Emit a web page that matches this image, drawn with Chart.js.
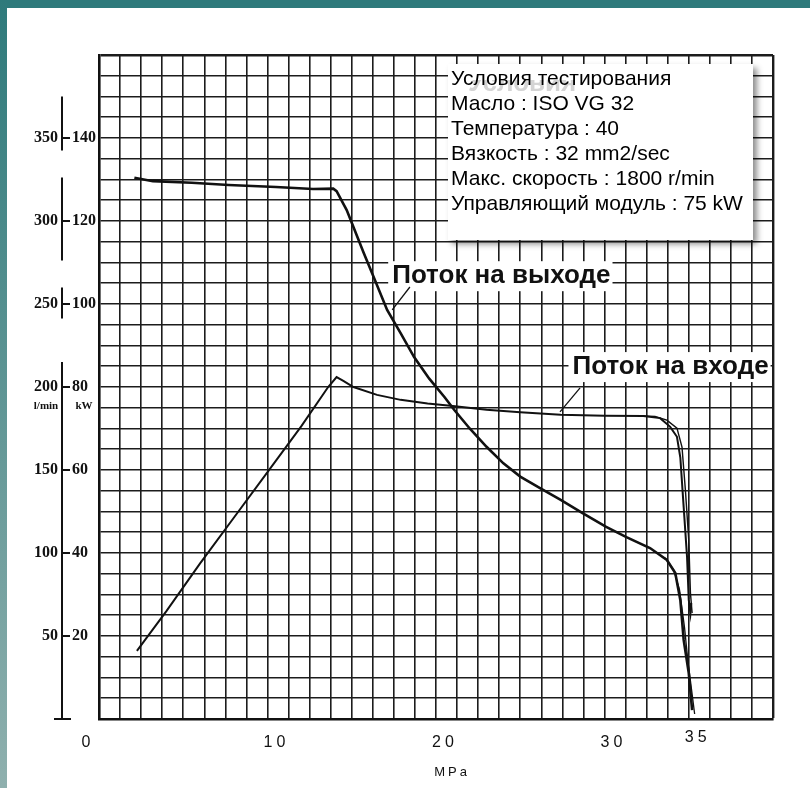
<!DOCTYPE html>
<html>
<head>
<meta charset="utf-8">
<script src="https://cdn.jsdelivr.net/npm/chart.js@4.4.1/dist/chart.umd.min.js"></script>
<style>
  html, body { margin: 0; padding: 0; background: #fff; }
  body { width: 810px; height: 788px; position: relative; overflow: hidden; }
  #topBand { position: absolute; left: 0; top: 0; width: 810px; height: 8px; background: #2e7a7b; }
  #leftBand { position: absolute; left: 0; top: 0; width: 7px; height: 788px; background: linear-gradient(#2e7a7b, #8fb0ae); }
  #wrap { position: absolute; left: 0; top: 0; width: 810px; height: 788px; }
  #conditions {
    position: absolute; left: 448px; top: 64px; width: 305px; height: 176px;
    background: #fff; box-shadow: 4px 4px 6px rgba(0,0,0,0.45);
    font-family: "Liberation Sans", Arial, sans-serif; font-size: 21px; color: #000;
  }
  #conditions .ghost {
    position: absolute; left: 20px; top: 16px; height: 11px; overflow: hidden;
  }
  #conditions .ghost span {
    position: relative; top: -11px; display: block; line-height: 26px;
    font-weight: bold; font-size: 26px; color: #d4d4d4;
  }
  #conditions .lines { position: absolute; left: 3px; top: 1px; line-height: 25px; white-space: nowrap; }
</style>
</head>
<body>
<div id="topBand"></div>
<div id="leftBand"></div>
<div id="wrap"><canvas id="chart" width="810" height="788"></canvas></div>
<div id="conditions">
  <div class="ghost"><span>Условия</span></div>
  <div class="lines">
    <div>Условия тестирования</div>
    <div>Масло : ISO VG 32</div>
    <div>Температура : 40</div>
    <div>Вязкость : 32 mm2/sec</div>
    <div>Макс. скорость : 1800 r/min</div>
    <div>Управляющий модуль : 75 kW</div>
  </div>
</div>
<script>
// pressure (MPa) vs flow (l/min), the falling curve
const flowPressure = [2.1, 3.2, 5.5, 7.7, 10.5, 12.7, 13.9, 14.1, 14.7, 15.1, 15.7, 16.3, 17.1, 17.9, 18.7, 19.6,
  20.5, 21.1, 22.0, 23.0, 24.0, 25.0, 26.2, 27.4, 28.7, 30.1, 31.3, 32.7, 33.7, 34.2, 34.5, 34.7, 35.0, 35.2];
const flowLmin = [326, 324, 323, 321.7, 320.5, 319.3, 319.5, 318, 306.6, 296.4, 281, 266.3, 246.4, 232.5, 218, 205,
  194, 186, 175, 164, 154, 146, 139, 132, 124, 115.7, 109.6, 103, 95.8, 88, 71.7, 47.6, 27.7, 5.4];
// second pen trace at the end of the flow curve
const flowTracePressure = [33.6, 34.1, 34.45, 34.75, 34.95, 35.2, 35.35];
const flowTraceLmin = [97, 90, 78, 55, 35, 15, 3];

// pressure (MPa) vs power (kW)
const powerPressure = [2.25, 4, 6, 8, 10, 12, 13.6, 14.1, 14.5, 15.1, 16.5, 17.9, 19.5, 21, 23, 25, 27.4, 30,
  32.3, 33.3, 33.9, 34.3, 34.5, 34.7, 34.9, 35.0, 35.1, 35.15];
const powerKw = [16.4, 26, 37.5, 48.5, 59.5, 70.5, 80, 82.4, 81.5, 80, 78.1, 76.9, 76, 75.4, 74.5, 73.9, 73.3, 73.1,
  73.0, 72.5, 70.4, 68, 63, 51, 39, 28.7, 25.5, 28];
// second pen trace on the power knee
const powerTracePressure = [32.3, 33.0, 33.7, 34.3, 34.6, 34.8, 35.0, 35.1, 35.2];
const powerTraceKw = [73.0, 72.9, 72.0, 70.1, 65.5, 55.2, 43.1, 30.4, 25.5];

const pressureTicks = [0, 10, 20, 30, 35];
const powerTicks = [20, 40, 60, 80, 100, 120, 140];
const flowTicks = [50, 100, 150, 200, 250, 300, 350];

const pts = (xs, ys) => xs.map((x, i) => ({ x: x, y: ys[i] }));
const ink = '#111';

// left scale: broken vertical bar with paired l/min and kW labels, bottom pressure labels
const scaleLabels = {
  id: 'scaleLabels',
  afterDraw(chart) {
    const { ctx, scales: { x, y } } = chart;
    ctx.save();
    ctx.strokeStyle = ink;
    ctx.fillStyle = ink;
    ctx.lineWidth = 2;
    const ax = 62;
    [[137, 150], [110.5, 130.5], [96.5, 104], [0, 86]].forEach(([a, b]) => {
      ctx.beginPath();
      ctx.moveTo(ax, y.getPixelForValue(a));
      ctx.lineTo(ax, y.getPixelForValue(b));
      ctx.stroke();
    });
    ctx.beginPath();
    ctx.moveTo(54, y.getPixelForValue(0));
    ctx.lineTo(71, y.getPixelForValue(0));
    ctx.stroke();

    ctx.font = 'bold 16px "Liberation Serif", serif';
    ctx.textBaseline = 'middle';
    powerTicks.forEach((v, i) => {
      const py = y.getPixelForValue(v);
      ctx.beginPath();
      ctx.moveTo(ax, py);
      ctx.lineTo(ax + 8, py);
      ctx.stroke();
      ctx.textAlign = 'right';
      ctx.fillText(String(flowTicks[i]), ax - 4, py);
      ctx.textAlign = 'left';
      ctx.fillText(String(v), ax + 10, py);
    });
    ctx.font = 'bold 11px "Liberation Serif", serif';
    ctx.textAlign = 'center';
    ctx.fillText('l/min', 46, 406);
    ctx.fillText('kW', 84, 406);

    ctx.font = '16px "Liberation Sans", Arial, sans-serif';
    ctx.letterSpacing = '4px';
    ctx.textAlign = 'center';
    pressureTicks.forEach(v => {
      let px = x.getPixelForValue(v) + 9;
      let py = 743;
      if (v === 0) px -= 20;
      if (v === 35) py -= 5;
      ctx.fillText(String(v), px, py);
    });
    ctx.font = '13px "Liberation Sans", Arial, sans-serif';
    ctx.letterSpacing = '3px';
    ctx.fillText('MPa', 452, 772);
    ctx.restore();
  }
};

// curve names on white patches with short leader lines
const curveNotes = {
  id: 'curveNotes',
  afterDatasetsDraw(chart) {
    const { ctx, scales: { x, y } } = chart;
    const notes = [
      { text: 'Поток на выходе', at: [17.4, 106.7], from: [18.45, 104.1], to: [17.4, 98.6] },
      { text: 'Поток на входе', at: [28.1, 84.8], from: [28.55, 79.8], to: [27.36, 74] }
    ];
    ctx.save();
    ctx.font = 'bold 26px "Liberation Sans", Arial, sans-serif';
    ctx.textBaseline = 'middle';
    ctx.textAlign = 'left';
    notes.forEach(n => {
      const px = x.getPixelForValue(n.at[0]);
      const py = y.getPixelForValue(n.at[1]);
      const w = ctx.measureText(n.text).width;
      ctx.fillStyle = '#fff';
      ctx.fillRect(px - 4, py - 15, w + 6, 30);
      ctx.fillStyle = ink;
      ctx.fillText(n.text, px, py);
      ctx.strokeStyle = ink;
      ctx.lineWidth = 1.3;
      ctx.beginPath();
      ctx.moveTo(x.getPixelForValue(n.from[0]), y.getPixelForValue(n.from[1]));
      ctx.lineTo(x.getPixelForValue(n.to[0]), y.getPixelForValue(n.to[1]));
      ctx.stroke();
    });
    ctx.restore();
  }
};

const line = (data, axis, width) => ({
  data: data, yAxisID: axis, borderColor: ink, borderWidth: width,
  pointRadius: 0, fill: false, tension: 0
});

new Chart(document.getElementById('chart'), {
  type: 'line',
  data: {
    datasets: [
      line(pts(flowPressure, flowLmin), 'yFlow', 2.6),
      line(pts(flowTracePressure, flowTraceLmin), 'yFlow', 1.3),
      line(pts(powerPressure, powerKw), 'y', 2),
      line(pts(powerTracePressure, powerTraceKw), 'y', 1.4)
    ]
  },
  options: {
    responsive: false,
    animation: false,
    layout: { padding: { left: 99, right: 37, top: 55, bottom: 69 } },
    plugins: { legend: { display: false }, tooltip: { enabled: false } },
    scales: {
      x: {
        type: 'linear', min: 0, max: 40,
        ticks: { stepSize: 1.25, display: false },
        grid: { color: '#1c1c1c', lineWidth: c => c.tick && c.tick.value === 40 ? 2.4 : 1.6, drawTicks: false },
        border: { color: ink, width: 2.6 },
        afterFit: s => { s.height = 0; }
      },
      y: {
        min: 0, max: 160,
        ticks: { stepSize: 5, display: false },
        grid: { color: '#1c1c1c', lineWidth: c => c.tick && c.tick.value === 160 ? 2.4 : 1.6, drawTicks: false },
        border: { color: ink, width: 2.6 },
        afterFit: s => { s.width = 0; }
      },
      yFlow: {
        min: 0, max: 400, display: false
      }
    }
  },
  plugins: [scaleLabels, curveNotes]
});
</script>
</body>
</html>
